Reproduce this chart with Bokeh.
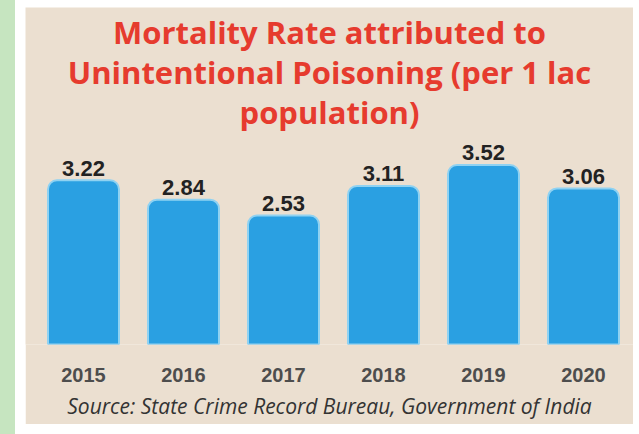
from bokeh.plotting import figure
from bokeh.models import Range1d, FixedTicker, Label, Div, ColumnDataSource, Title
from bokeh.layouts import row
from bokeh.embed import file_html
from bokeh.resources import INLINE
from bokeh.core.properties import value

# ---- data ----
years = ["2015", "2016", "2017", "2018", "2019", "2020"]
rates = [3.22, 2.84, 2.53, 3.11, 3.52, 3.06]
rate_labels = ["3.22", "2.84", "2.53", "3.11", "3.52", "3.06"]
title_lines = ["Mortality Rate attributed to",
               "Unintentional Poisoning (per 1 lac",
               "population)"]
source_text = "Source: State Crime Record Bureau, Government of India"

BEIGE = "#ebdfd0"
BAR = "#2aa0e2"
idx = list(range(len(years)))

p = figure(width=608, height=417, margin=(7, 0, 0, 0),
           x_range=Range1d(-0.58, 5.50), y_range=Range1d(0, 337 / 51),
           output_backend="svg", toolbar_location=None, y_axis_location=None,
           min_border_left=0, min_border_right=0, min_border_top=0,
           min_border_bottom=80)
p.title.visible = False
p.background_fill_color = BEIGE
p.border_fill_color = BEIGE
p.outline_line_color = None
p.grid.visible = False

src = ColumnDataSource(dict(x=idx, top=rates, t=rate_labels))
p.vbar(x="x", top="top", width=0.71, source=src, fill_color=BAR,
       line_color="#8fd2f2", line_width=2, border_radius=(9, 9, 0, 0))
p.text(x="x", y="top", text="t", source=src, y_offset=-12,
       text_align="center", text_baseline="alphabetic",
       text_font=value("Liberation Sans"), text_font_size="22px",
       text_font_style="bold", text_color="#222222")

ax = p.xaxis[0]
ax.ticker = FixedTicker(ticks=idx)
ax.major_label_overrides = {i: y for i, y in zip(idx, years)}
ax.axis_line_color = None
ax.major_tick_line_color = None
ax.minor_tick_line_color = None
ax.major_tick_out = 0
ax.major_tick_in = 0
ax.major_label_standoff = 23
ax.major_label_text_font = "Liberation Sans"
ax.major_label_text_font_style = "bold"
ax.major_label_text_font_size = "20px"
ax.major_label_text_color = "#4d4d4d"

for line, yy in zip(title_lines, [313, 273, 233]):
    p.add_layout(Label(x=304, y=yy, x_units="screen", y_units="screen",
                       text=line, text_align="center", text_baseline="alphabetic",
                       text_font="Open Sans", text_font_style="bold",
                       text_font_size="31px", text_color="#e63b2e"))

p.add_layout(Title(text=source_text, align="center", standoff=10,
                   text_font="Open Sans", text_font_style="italic",
                   text_font_size="21px", text_color="#333333"), "below")

green = Div(text='<div style="width:15px;height:434px;background:#c6e5c0;"></div>',
            width=15, height=434, margin=0)
gap = Div(text="", width=10, height=434, margin=0)
layout = row(green, gap, p)

open("out.html", "w").write(file_html(layout, INLINE))
